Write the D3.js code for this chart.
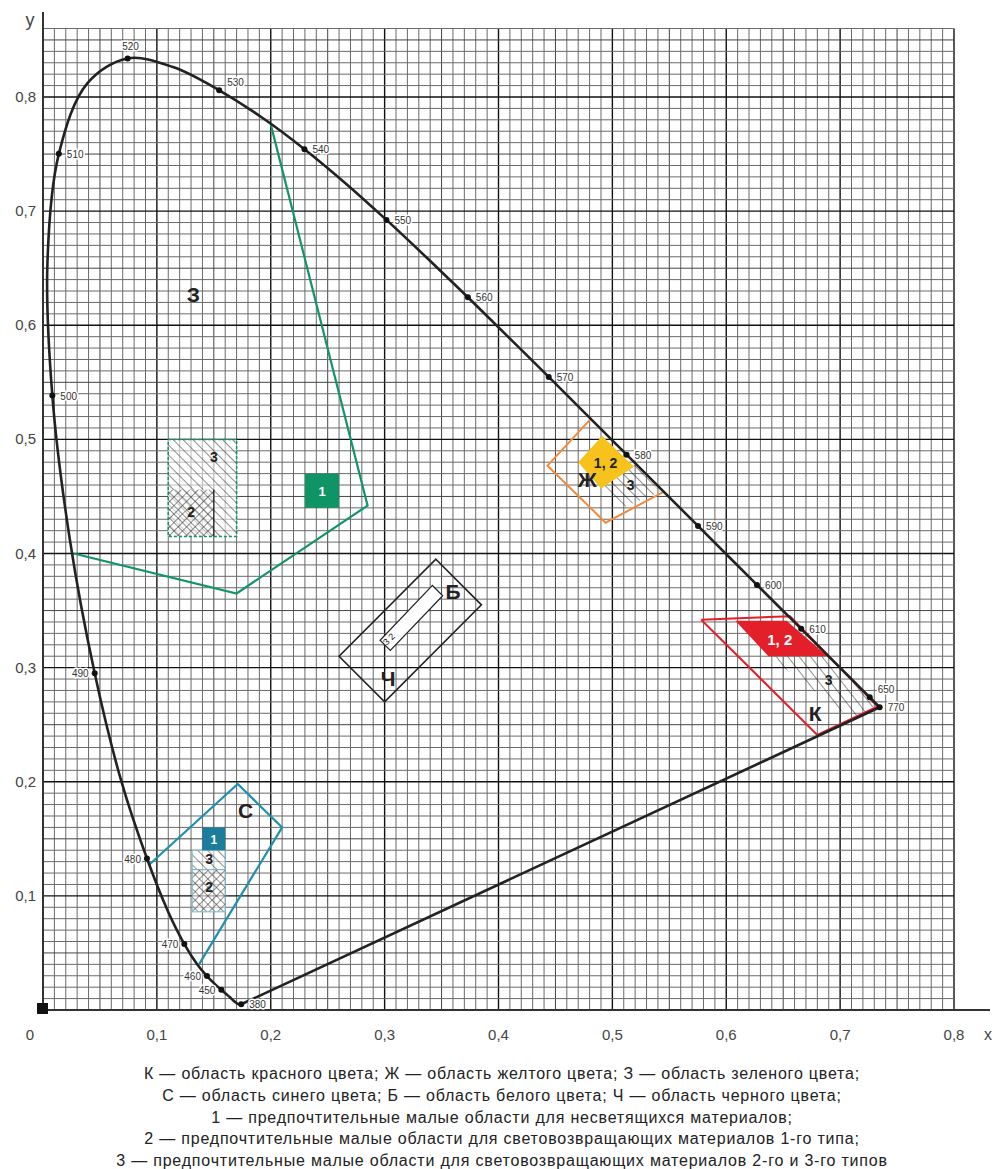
<!DOCTYPE html>
<html lang="ru">
<head>
<meta charset="UTF-8">
<title>Цветовые области МКО</title>
<script src="https://d3js.org/d3.v7.min.js"></script>
<style>
  body { margin: 0; background: #fff; }
  svg { display: block; font-family: "Liberation Sans", Arial, sans-serif; }
</style>
</head>
<body>
<svg width="996" height="1169"></svg>
<script>
// спектральный локус (x, y) через 5 нм
const wavelengths = [380,390,400,410,420,425,430,435,440,445,450,455,460,465,470,475,480,485,490,495,500,505,510,515,520,525,530,535,540,545,550,555,560,565,570,575,580,585,590,595,600,605,610,620,630,640,650,660,680,700,770];
const locusX = [0.1741,0.1738,0.1733,0.1726,0.1714,0.1703,0.1689,0.1669,0.1644,0.1611,0.1566,0.1510,0.1440,0.1355,0.1241,0.1096,0.0913,0.0687,0.0454,0.0235,0.0082,0.0039,0.0139,0.0389,0.0743,0.1142,0.1547,0.1929,0.2296,0.2658,0.3016,0.3373,0.3731,0.4087,0.4441,0.4788,0.5125,0.5448,0.5752,0.6029,0.6270,0.6482,0.6658,0.6915,0.7079,0.7190,0.7260,0.7300,0.7334,0.7347,0.7347];
const locusY = [0.0050,0.0049,0.0048,0.0048,0.0051,0.0058,0.0069,0.0086,0.0109,0.0138,0.0177,0.0227,0.0297,0.0399,0.0578,0.0868,0.1327,0.2007,0.2950,0.4127,0.5384,0.6548,0.7502,0.8120,0.8338,0.8262,0.8059,0.7816,0.7543,0.7243,0.6923,0.6589,0.6245,0.5896,0.5547,0.5202,0.4866,0.4544,0.4242,0.3965,0.3725,0.3514,0.3340,0.3083,0.2920,0.2809,0.2740,0.2700,0.2666,0.2653,0.2653];

// подписанные точки и сторона подписи
const markedWl   = [380,450,460,470,480,490,500,510,520,530,540,550,560,570,580,590,600,610,650,770];
const markedSide = ["r","l","l","l","l","l","r","r","t","tr","r","r","r","r","r","r","r","r","tr","r"];

const xTicks = [0.1,0.2,0.3,0.4,0.5,0.6,0.7,0.8];
const yTicks = [0.1,0.2,0.3,0.4,0.5,0.6,0.7,0.8];

// области
const greenLine  = [[0.200,0.776],[0.285,0.442],[0.170,0.365],[0.027,0.400]];
const greenSmall = [0.110,0.170,0.415,0.500];   // x0,x1,y0,y1
const greenSmall2 = [0.110,0.150,0.415,0.456];
const greenOne   = [0.230,0.260,0.440,0.470];

const blueLine   = [[0.093,0.127],[0.171,0.198],[0.210,0.160],[0.137,0.040]];
const blueOne    = [0.140,0.160,0.140,0.160];
const blueThree  = [0.131,0.160,0.123,0.140];
const blueTwo    = [0.131,0.160,0.086,0.123];

const blackWhite = [[0.345,0.395],[0.385,0.355],[0.300,0.270],[0.260,0.310]];
const whiteStrip = [[0.342,0.372],[0.351,0.363],[0.305,0.315],[0.296,0.324]];

const yellowLine  = [[0.481,0.518],[0.545,0.454],[0.494,0.427],[0.443,0.477]];
const yellowFill  = [[0.491,0.503],[0.519,0.476],[0.490,0.457],[0.470,0.480]];
const yellowThree = [[0.490,0.460],[0.520,0.478],[0.542,0.454],[0.511,0.441]];

const redLine  = [[0.578,0.342],[0.656,0.345],[0.733,0.266],[0.680,0.241],[0.578,0.342]];
const redFill  = [[0.608,0.341],[0.653,0.341],[0.689,0.310],[0.637,0.310]];
const redThree = [[0.637,0.310],[0.689,0.310],[0.731,0.267],[0.712,0.254]];

const areaLetters = [
  {t:"З", x:0.132, y:0.620}, {t:"С", x:0.178, y:0.168}, {t:"Б", x:0.360, y:0.360},
  {t:"Ч", x:0.303, y:0.284}, {t:"Ж", x:0.478, y:0.458}, {t:"К", x:0.678, y:0.253}
];

const captions = [
  "К — область красного цвета; Ж — область желтого цвета; З — область зеленого цвета;",
  "С — область синего цвета; Б — область белого цвета; Ч — область черного цвета;",
  "1 — предпочтительные малые области для несветящихся материалов;",
  "2 — предпочтительные малые области для световозвращающих материалов 1-го типа;",
  "3 — предпочтительные малые области для световозвращающих материалов 2-го и 3-го типов"
];

const svg = d3.select("svg");
const x = d3.scaleLinear().domain([0, 0.8]).range([43, 954]);
const y = d3.scaleLinear().domain([0, 0.8]).range([1010, 97]);
const gridTop = 0.86;

// штриховки
const defs = svg.append("defs");
function hatch(id, angle, gap, cross) {
  const p = defs.append("pattern").attr("id", id).attr("patternUnits", "userSpaceOnUse")
    .attr("width", gap).attr("height", gap).attr("patternTransform", `rotate(${angle})`);
  p.append("line").attr("x1", 0).attr("y1", 0).attr("x2", 0).attr("y2", gap)
    .attr("stroke", "#222").attr("stroke-width", 1);
  if (cross) p.append("line").attr("x1", 0).attr("y1", 0).attr("x2", gap).attr("y2", 0)
    .attr("stroke", "#222").attr("stroke-width", 1);
}
hatch("diag", -45, 7, false);
hatch("diagRed", -38, 9, false);
hatch("cross", 45, 6, true);

// сетка
const gridG = svg.append("g");
const fine = d3.range(0, 81).map(i => i / 100);
const fineY = d3.range(0, 87).map(i => i / 100);
function gridColor(i) { return i % 10 === 0 ? "#111" : (i % 5 === 0 ? "#444" : "#6a6a6a"); }
function gridW(i) { return i % 10 === 0 ? 1.4 : 1; }
gridG.selectAll(".gv").data(fine).enter().append("line")
  .attr("x1", d => x(d)).attr("x2", d => x(d))
  .attr("y1", y(0)).attr("y2", y(gridTop))
  .attr("stroke", (d, i) => gridColor(i)).attr("stroke-width", (d, i) => gridW(i));
gridG.selectAll(".gh").data(fineY).enter().append("line")
  .attr("x1", x(0)).attr("x2", x(0.8))
  .attr("y1", d => y(d)).attr("y2", d => y(d))
  .attr("stroke", (d, i) => gridColor(i)).attr("stroke-width", (d, i) => gridW(i));

// оси
svg.append("line").attr("x1", x(0)).attr("x2", x(0)).attr("y1", y(0)).attr("y2", 12)
  .attr("stroke", "#333").attr("stroke-width", 2);
svg.append("line").attr("x1", x(0)).attr("x2", 990).attr("y1", y(0)).attr("y2", y(0))
  .attr("stroke", "#333").attr("stroke-width", 2);
svg.append("rect").attr("x", x(0) - 6).attr("y", y(0) - 7).attr("width", 11).attr("height", 11).attr("fill", "#111");

const tickFont = {size: 15, fill: "#444"};
svg.selectAll(".xt").data(xTicks).enter().append("text")
  .attr("x", d => x(d)).attr("y", y(0) + 30).attr("text-anchor", "middle")
  .attr("font-size", tickFont.size).attr("fill", tickFont.fill).text(d => d3.format(".1f")(d).replace(".", ","));
svg.selectAll(".yt").data(yTicks).enter().append("text")
  .attr("x", x(0) - 7).attr("y", d => y(d) + 5).attr("text-anchor", "end")
  .attr("font-size", tickFont.size).attr("fill", tickFont.fill).text(d => d3.format(".1f")(d).replace(".", ","));
svg.append("text").attr("x", 30).attr("y", y(0) + 30).attr("text-anchor", "middle")
  .attr("font-size", tickFont.size).attr("fill", tickFont.fill).text("0");
svg.append("text").attr("x", 988).attr("y", y(0) + 30).attr("text-anchor", "middle")
  .attr("font-size", 16).attr("fill", tickFont.fill).text("x");
svg.append("text").attr("x", 30).attr("y", 26).attr("text-anchor", "middle")
  .attr("font-size", 18).attr("fill", tickFont.fill).text("y");

const line = d3.line().x(d => x(d[0])).y(d => y(d[1]));
const rectOf = r => ({x: x(r[0]), y: y(r[3]), w: x(r[1]) - x(r[0]), h: y(r[2]) - y(r[3])});

// зеленая область
const green = "#12946a";
svg.append("path").attr("d", line(greenLine)).attr("fill", "none").attr("stroke", green).attr("stroke-width", 2.2);
[[greenSmall, "#fff"], [greenSmall, "url(#diag)"], [greenSmall2, "#fff"], [greenSmall2, "url(#cross)"]].forEach(([r, f]) => {
  const b = rectOf(r);
  svg.append("rect").attr("x", b.x).attr("y", b.y).attr("width", b.w).attr("height", b.h).attr("fill", f).attr("opacity", f === "#fff" ? 0.55 : 1);
});
{
  const b = rectOf(greenSmall);
  svg.append("rect").attr("x", b.x).attr("y", b.y).attr("width", b.w).attr("height", b.h)
    .attr("fill", "none").attr("stroke", green).attr("stroke-width", 1.5).attr("stroke-dasharray", "3,2");
  svg.append("line").attr("x1", x(greenSmall2[1])).attr("x2", x(greenSmall2[1]))
    .attr("y1", y(greenSmall2[3])).attr("y2", y(greenSmall2[2])).attr("stroke", "#111").attr("stroke-width", 1.2);
  const o = rectOf(greenOne);
  svg.append("rect").attr("x", o.x).attr("y", o.y).attr("width", o.w).attr("height", o.h).attr("fill", "#0f9466");
  svg.append("text").attr("x", o.x + o.w / 2).attr("y", o.y + o.h / 2 + 5).attr("text-anchor", "middle")
    .attr("font-size", 13).attr("font-weight", "bold").attr("fill", "#fff").text("1");
}

// синяя область
const blue = "#1f8fb0";
svg.append("path").attr("d", line(blueLine)).attr("fill", "none").attr("stroke", blue).attr("stroke-width", 2.2);
[[blueThree, "url(#diag)"], [blueTwo, "url(#cross)"]].forEach(([r, f]) => {
  const b = rectOf(r);
  svg.append("rect").attr("x", b.x).attr("y", b.y).attr("width", b.w).attr("height", b.h).attr("fill", "#fff").attr("opacity", 0.6);
  svg.append("rect").attr("x", b.x).attr("y", b.y).attr("width", b.w).attr("height", b.h).attr("fill", f)
    .attr("stroke", "#7ab6c8").attr("stroke-width", 1);
});
{
  const o = rectOf(blueOne);
  svg.append("rect").attr("x", o.x).attr("y", o.y).attr("width", o.w).attr("height", o.h).attr("fill", "#1b7c9c");
  svg.append("text").attr("x", o.x + o.w / 2).attr("y", o.y + o.h / 2 + 5).attr("text-anchor", "middle")
    .attr("font-size", 12).attr("font-weight", "bold").attr("fill", "#fff").text("1");
}

// белая / черная область
svg.append("path").attr("d", line(blackWhite) + "Z").attr("fill", "none").attr("stroke", "#222").attr("stroke-width", 1.6);
svg.append("path").attr("d", line(whiteStrip) + "Z").attr("fill", "#fff").attr("stroke", "#222").attr("stroke-width", 1.2);
{
  const a = whiteStrip[3], b = whiteStrip[2];
  const mx = (x(a[0]) + x(b[0])) / 2, my = (y(a[1]) + y(b[1])) / 2;
  svg.append("text").attr("transform", `translate(${mx + 6},${my - 4}) rotate(-45)`)
    .attr("text-anchor", "middle").attr("font-size", 9).attr("fill", "#222").text("3  2");
}

// желтая область
svg.append("path").attr("d", line(yellowThree) + "Z").attr("fill", "url(#diag)");
svg.append("path").attr("d", line(yellowFill) + "Z").attr("fill", "#f6c21b");
svg.append("path").attr("d", line(yellowLine) + "Z").attr("fill", "none").attr("stroke", "#f08a3c").attr("stroke-width", 2);

// красная область
svg.append("path").attr("d", line(redThree) + "Z").attr("fill", "url(#diagRed)");
svg.append("path").attr("d", line(redFill) + "Z").attr("fill", "#e3202a");
svg.append("path").attr("d", line(redLine)).attr("fill", "none").attr("stroke", "#e3202a").attr("stroke-width", 2);

// спектральный локус
const locus = wavelengths.map((w, i) => [locusX[i], locusY[i]]);
svg.append("path").attr("d", d3.line().curve(d3.curveCatmullRom).x(d => x(d[0])).y(d => y(d[1]))(locus))
  .attr("fill", "none").attr("stroke", "#222").attr("stroke-width", 2.6);
svg.append("path").attr("d", line([locus[0], locus[locus.length - 1]]))
  .attr("fill", "none").attr("stroke", "#222").attr("stroke-width", 2.6);

const marked = markedWl.map((w, k) => {
  const i = wavelengths.indexOf(w);
  return {w, px: x(locusX[i]), py: y(locusY[i]), side: markedSide[k]};
});
svg.selectAll(".dot").data(marked).enter().append("circle")
  .attr("cx", d => d.px).attr("cy", d => d.py).attr("r", 3).attr("fill", "#111");
svg.selectAll(".wl").data(marked).enter().append("text")
  .attr("x", d => d.side === "l" ? d.px - 6 : d.side === "t" ? d.px + 3 : d.px + 8)
  .attr("y", d => d.side === "t" ? d.py - 8 : d.side === "tr" ? d.py - 4 : d.py + 4)
  .attr("text-anchor", d => d.side === "l" ? "end" : d.side === "t" ? "middle" : "start")
  .attr("font-size", 10).attr("fill", "#333")
  .attr("stroke", "#fff").attr("stroke-width", 3).attr("paint-order", "stroke")
  .text(d => d.w);

// цифры малых областей
const smallNums = [
  {t:"3", x:0.150, y:0.480, c:"#222", s:14}, {t:"2", x:0.130, y:0.432, c:"#222", s:14},
  {t:"3", x:0.146, y:0.128, c:"#222", s:14}, {t:"2", x:0.146, y:0.103, c:"#222", s:14},
  {t:"1, 2", x:0.494, y:0.475, c:"#222", s:14}, {t:"3", x:0.516, y:0.456, c:"#222", s:14},
  {t:"1, 2", x:0.647, y:0.320, c:"#fff", s:15}, {t:"3", x:0.690, y:0.285, c:"#222", s:14}
];
svg.selectAll(".sn").data(smallNums).enter().append("text")
  .attr("x", d => x(d.x)).attr("y", d => y(d.y)).attr("text-anchor", "middle")
  .attr("font-size", d => d.s).attr("font-weight", "bold").attr("fill", d => d.c).text(d => d.t);

svg.selectAll(".al").data(areaLetters).enter().append("text")
  .attr("x", d => x(d.x)).attr("y", d => y(d.y)).attr("text-anchor", "middle")
  .attr("font-size", 21).attr("font-weight", "bold").attr("fill", "#222").text(d => d.t);

// подпись
svg.selectAll(".cap").data(captions).enter().append("text")
  .attr("x", 502).attr("y", (d, i) => 1079 + i * 21.8).attr("text-anchor", "middle")
  .attr("font-size", 16).attr("letter-spacing", 0.8).attr("fill", "#222").text(d => d);
</script>
</body>
</html>
